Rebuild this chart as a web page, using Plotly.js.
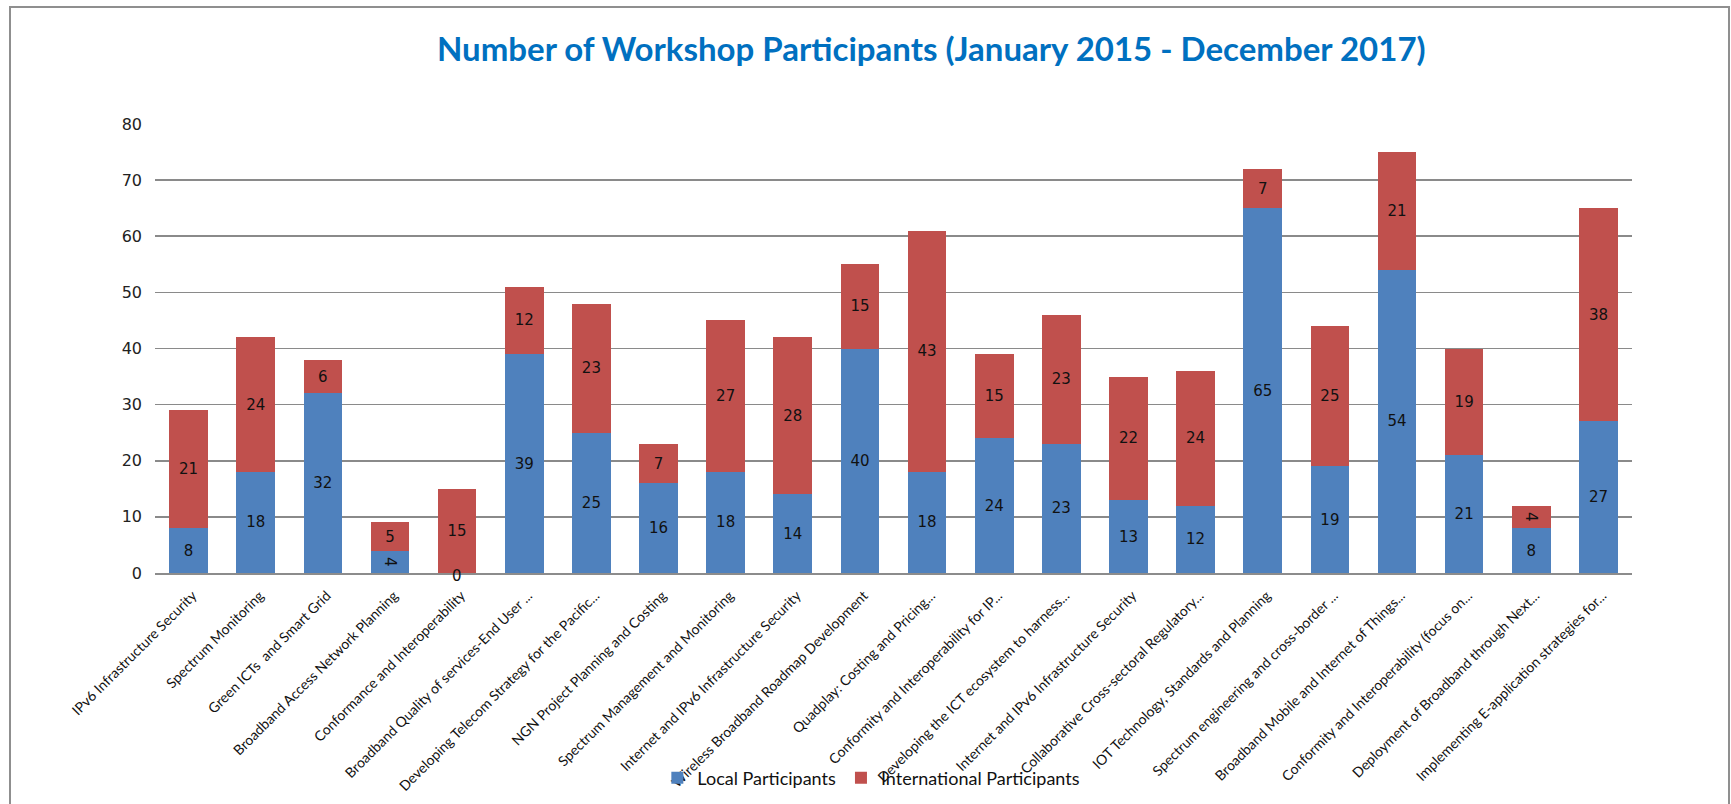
<!DOCTYPE html>
<html>
<head>
<meta charset="utf-8">
<script src="https://cdn.plot.ly/plotly-3.0.1.min.js"></script>
<style>
  html, body { margin: 0; padding: 0; background: #ffffff; }
  #wrap { position: relative; width: 1731px; height: 804px; overflow: hidden; }
  #chart { position: absolute; left: 0; top: 0; width: 1731px; height: 804px; }
  #frame { position: absolute; left: 9px; top: 6px; width: 1721px; height: 820px;
           border: 2px solid #8f8f8f; box-sizing: border-box; pointer-events: none; }
</style>
</head>
<body>
<div id="wrap">
  <div id="chart"></div>
  <div id="frame"></div>
</div>
<script>
const categories = [
  "IPv6 Infrastructure Security",
  "Spectrum Monitoring",
  "Green ICTs  and Smart Grid",
  "Broadband Access Network Planning",
  "Conformance and Interoperability",
  "Broadband Quality of services-End User ...",
  "Developing Telecom Strategy for the Pacific...",
  "NGN Project Planning and Costing",
  "Spectrum Management and Monitoring",
  "Internet and IPv6 Infrastructure Security",
  "Wireless Broadband Roadmap Development",
  "Quadplay: Costing and Pricing...",
  "Conformity and Interoperability for IP...",
  "Developing the ICT ecosystem to harness...",
  "Internet and IPv6 Infrastructure Security",
  "Collaborative Cross-sectoral Regulatory...",
  "IOT Technology, Standards and Planning",
  "Spectrum engineering and cross-border ...",
  "Broadband Mobile and Internet of Things...",
  "Conformity and Interoperability (focus on...",
  "Deployment of Broadband through Next...",
  "Implementing E-application strategies for..."
];
const localParticipants = [8, 18, 32, 4, 0, 39, 25, 16, 18, 14, 40, 18, 24, 23, 13, 12, 65, 19, 54, 21, 8, 27];
const internationalParticipants = [21, 24, 6, 5, 15, 12, 23, 7, 27, 28, 15, 43, 15, 23, 22, 24, 7, 25, 21, 19, 4, 38];
const yTicks = [0, 10, 20, 30, 40, 50, 60, 70, 80];

const positions = categories.map((_, i) => i);
const labelFont = { family: "DejaVu Sans, Verdana, sans-serif", size: 15, color: "#111111" };

const traces = [
  {
    type: "bar", name: "Local Participants",
    x: positions, y: localParticipants,
    marker: { color: "#4F81BD", line: { width: 0 } },
    text: localParticipants.map(String),
    textposition: "inside", insidetextanchor: "middle",
    insidetextfont: labelFont, constraintext: "none",
    hoverinfo: "y+name"
  },
  {
    type: "bar", name: "International Participants",
    x: positions, y: internationalParticipants,
    marker: { color: "#C0504D", line: { width: 0 } },
    text: internationalParticipants.map(String),
    textposition: "inside", insidetextanchor: "middle",
    insidetextfont: labelFont, constraintext: "none",
    hoverinfo: "y+name"
  }
];

// Labels for zero-height segments (Plotly draws no inside text for them)
const annotations = [];
localParticipants.forEach((v, i) => {
  if (v === 0) annotations.push({ x: positions[i], y: 0, xref: "x", yref: "y", text: String(v),
    showarrow: false, yanchor: "middle", yshift: -3, font: labelFont });
});

const layout = {
  width: 1731, height: 804,
  paper_bgcolor: "rgba(0,0,0,0)", plot_bgcolor: "#ffffff",
  margin: { l: 155, r: 99, t: 124, b: 231, autoexpand: false },
  title: {
    text: "<b>Number of Workshop Participants (January 2015 - December 2017)</b>",
    font: { family: "Lato, 'Liberation Sans', sans-serif", size: 33, color: "#0070C0" },
    x: 0.538, xanchor: "center", xref: "container",
    y: 0.938, yanchor: "middle", yref: "container"
  },
  barmode: "stack",
  bargap: 0.425,
  showlegend: true,
  legend: {
    orientation: "h", x: 0.485, xanchor: "center", y: -0.4566, yanchor: "middle",
    font: { family: "Lato, 'Liberation Sans', sans-serif", size: 18, color: "#111111" },
    bgcolor: "rgba(0,0,0,0)", itemsizing: "constant", traceorder: "normal",
    itemwidth: 30
  },
  xaxis: {
    tickmode: "array", tickvals: positions, ticktext: categories,
    tickangle: -45, range: [-0.5, categories.length - 0.5],
    tickfont: { family: "Lato, 'Liberation Sans', sans-serif", size: 14, color: "#111111" },
    showgrid: false, zeroline: false,
    showline: true, linecolor: "#8c8c8c", linewidth: 2,
    ticks: "", automargin: false, ticklabelstandoff: 7, ticklabelshift: 4
  },
  yaxis: {
    range: [0, 80], tickmode: "array", tickvals: yTicks,
    tickfont: { family: "DejaVu Sans, Verdana, sans-serif", size: 16, color: "#222222" },
    showgrid: true, gridcolor: "#8a8a8a", gridwidth: 1.6,
    zeroline: false, showline: false, ticks: "",
    automargin: false, ticklabelstandoff: 12
  },
  annotations: annotations
};

Plotly.newPlot("chart", traces, layout, { displayModeBar: false, staticPlot: true });
</script>
</body>
</html>
